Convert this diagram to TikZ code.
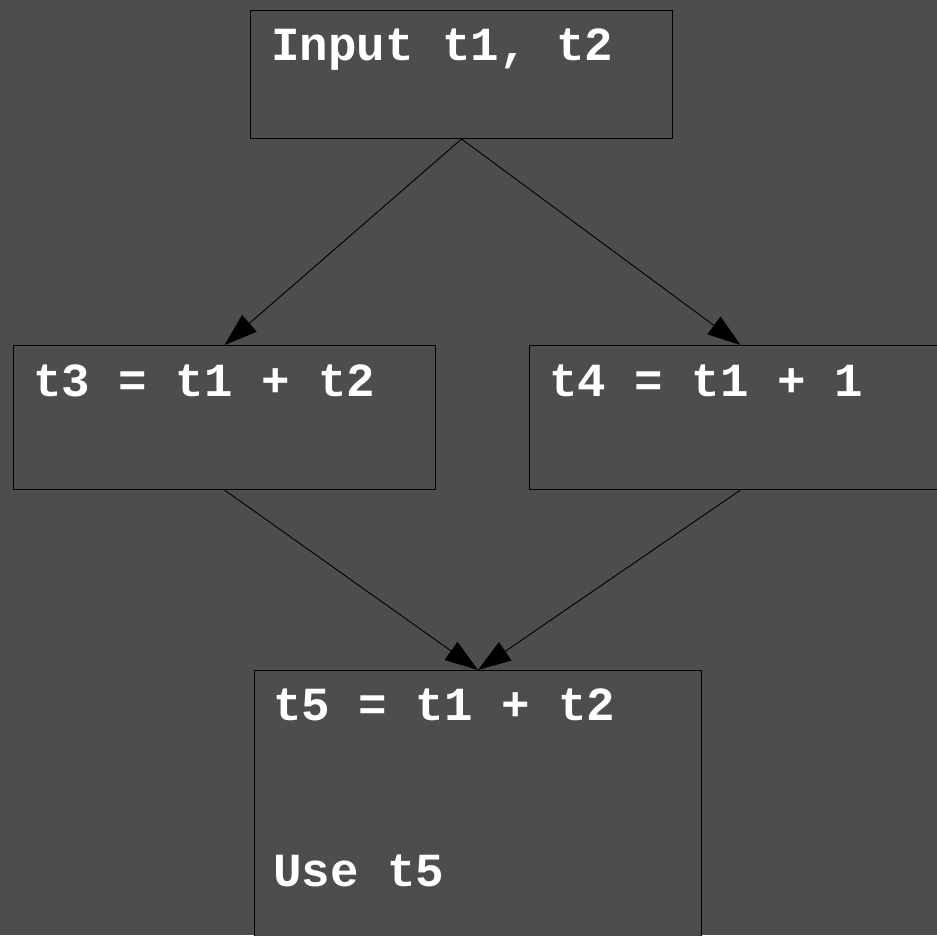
\documentclass[tikz,border=0pt]{standalone}
\usepackage{fontspec}
\newfontfamily\codefont{Liberation Mono}
\usetikzlibrary{arrows.meta}
\definecolor{bg}{RGB}{77,77,77}
\tikzset{
  block/.style={draw=black, line width=1pt, fill=bg, anchor=north west, inner sep=0pt},
  code/.style={anchor=base west, inner sep=0pt, text=white, font=\codefont\bfseries\fontsize{47.5}{56}\selectfont},
  arr/.style={draw=black, line width=0.9pt, -{Triangle[length=33pt,width=22pt]}}
}
\begin{document}
\begin{tikzpicture}[x=1pt,y=-1pt]
\fill[bg] (0,0) rectangle (937,935);
\useasboundingbox (0,0) rectangle (937,935);
\node[block, minimum width=422pt, minimum height=128pt] (b1) at (250,10) {};
\node[block, minimum width=422pt, minimum height=144pt] (b2) at (13,345) {};
\node[block, minimum width=422pt, minimum height=144pt] (b3) at (529,345) {};
\node[block, minimum width=447pt, minimum height=280pt] (b4) at (254,670) {};
\node[code] (l1) at (271,60) {Input t1, t2};
\node[code] (l2) at (33,396) {t3 = t1 + t2};
\node[code] (l3) at (549,396) {t4 = t1 + 1};
\node[code] (l4) at (273,720) {t5 = t1 + t2};
\node[code] (l5) at (273,886) {Use t5};
\draw[arr] (b1.south) -- (b2.north);
\draw[arr] (b1.south) -- (b3.north);
\draw[arr] (b2.south) -- (b4.north);
\draw[arr] (b3.south) -- (b4.north);
\end{tikzpicture}
\end{document}
